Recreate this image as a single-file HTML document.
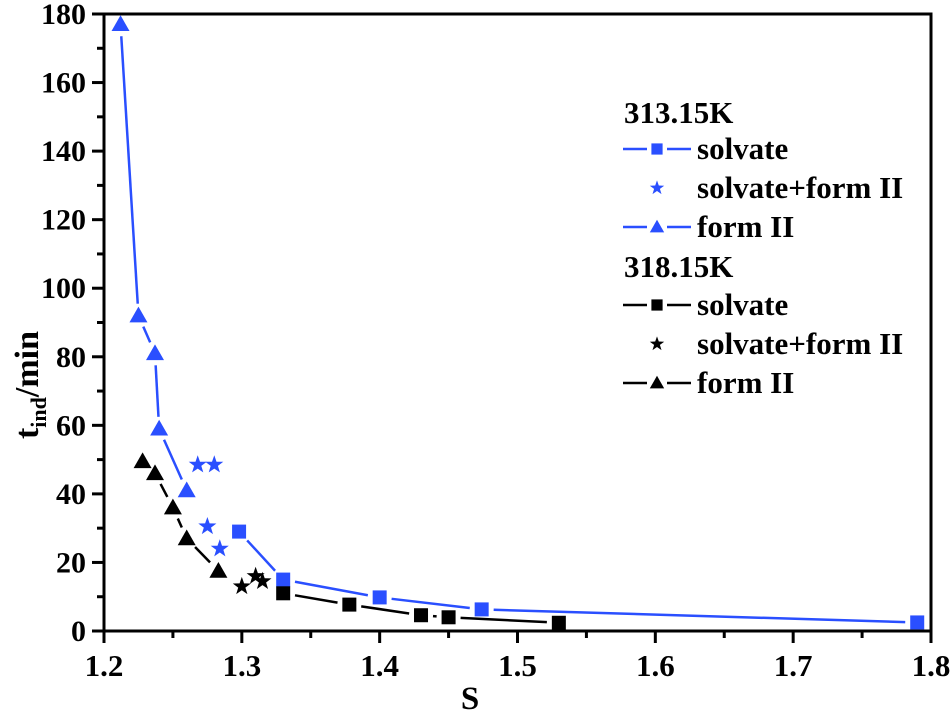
<!DOCTYPE html>
<html><head><meta charset="utf-8"><style>
html,body{margin:0;padding:0;background:#fff;}
svg text{font-family:"Liberation Serif",serif;font-weight:bold;fill:#000;}
</style></head><body>
<svg id="chart" width="952" height="719" xmlns="http://www.w3.org/2000/svg">
<g id="grid"></g>
<g id="series"></g>
<g id="legend"></g>
</svg>
<script>
const xTicks=[1.2,1.3,1.4,1.5,1.6,1.7,1.8];
const yTicks=[0,20,40,60,80,100,120,140,160,180];
const bSolvX=[1.298,1.330,1.400,1.474,1.790];
const bSolvY=[29,15,9.8,6.3,2.5];
const bStarX=[1.268,1.280,1.275,1.284];
const bStarY=[48.5,48.5,30.5,24];
const bFormX=[1.212,1.225,1.237,1.240,1.260];
const bFormY=[177,92,81,59,41];
const kSolvX=[1.330,1.378,1.430,1.450,1.530];
const kSolvY=[11,7.7,4.6,4.0,2.4];
const kStarX=[1.300,1.310,1.315];
const kStarY=[13,16,14.5];
const kFormX=[1.228,1.237,1.250,1.260,1.283];
const kFormY=[49.5,46,36,27,17.5];

const L=104,R=931,T=14,B=631;
const sx=v=>L+(v-1.2)/0.6*(R-L);
const sy=v=>B-v/180*(B-T);
const NS="http://www.w3.org/2000/svg";
const BLUE="#2a4fff";
function mk(tag,attrs,parent){const e=document.createElementNS(NS,tag);for(const k in attrs)e.setAttribute(k,attrs[k]);parent.appendChild(e);return e;}
const g=document.getElementById('grid'),s=document.getElementById('series'),lg=document.getElementById('legend');

const frame=mk('rect',{x:L,y:T,width:R-L,height:B-T,fill:'none',stroke:'#000','stroke-width':3},g);


xTicks.forEach((t,i)=>{
  const x=sx(t);
  const tk=mk('line',{x1:x,x2:x,y1:B,y2:B+12,stroke:'#000','stroke-width':3},g);
  
  
  if(i<xTicks.length-1){const xm=sx(t+0.05);const m=mk('line',{x1:xm,x2:xm,y1:B,y2:B+7,stroke:'#000','stroke-width':3},g);
  
  }
  const tx=mk('text',{x:x,y:B+45,'text-anchor':'middle','font-size':31},g);tx.textContent=t.toFixed(1);
  
  
});
yTicks.forEach((t,i)=>{
  const y=sy(t);
  const tk=mk('line',{x1:L-12,x2:L,y1:y,y2:y,stroke:'#000','stroke-width':3},g);
  
  
  if(i<yTicks.length-1){const ym=sy(t+10);const m=mk('line',{x1:L-7,x2:L,y1:ym,y2:ym,stroke:'#000','stroke-width':3},g);
  
  }
  const tx=mk('text',{x:L-18,y:y+10,'text-anchor':'end','font-size':30},g);tx.textContent=t;
  
  
});
const xt=mk('text',{x:470,y:709,'text-anchor':'middle','font-size':33},g);xt.textContent='S';


const yt=mk('text',{x:0,y:0,'text-anchor':'middle','font-size':34,transform:'translate(38,385) rotate(-90)'},g);


yt.innerHTML='t<tspan font-size="22" dy="8">ind</tspan><tspan dy="-8">/min</tspan>';

function marker(type,x,y,color,parent,size){
  let e;
  size=size||1;
  if(type==='sq'){e=mk('rect',{x:x-7*size,y:y-7*size,width:14*size,height:14*size,fill:color},parent);}
  else if(type==='tri'){const r=9*size;e=mk('polygon',{points:`${x},${y-r} ${x+r},${y+r*0.75} ${x-r},${y+r*0.75}`,fill:color},parent);}
  else{const pts=[];for(let k=0;k<10;k++){const r=k%2?3.8*size:9.5*size;const a=-Math.PI/2+k*Math.PI/5;pts.push((x+r*Math.cos(a)).toFixed(1)+','+(y+r*Math.sin(a)).toFixed(1));}
    e=mk('polygon',{points:pts.join(' '),fill:color},parent);}
  return e;
}
function gapLine(xs,ys,color,parent){
  for(let i=0;i<xs.length-1;i++){
    const x1=sx(xs[i]),y1=sy(ys[i]),x2=sx(xs[i+1]),y2=sy(ys[i+1]);
    const d=Math.hypot(x2-x1,y2-y1),g0=12;
    if(d<2*g0)continue;
    const ux=(x2-x1)/d,uy=(y2-y1)/d;
    const l=mk('line',{x1:x1+ux*g0,y1:y1+uy*g0,x2:x2-ux*g0,y2:y2-uy*g0,stroke:color,'stroke-width':2.5},parent);
    
    
  }
}
function series(xs,ys,type,color,line,name){
  const grp=mk('g',{},s);
  
  
  if(line)gapLine(xs,ys,color,grp);
  xs.forEach((v,i)=>{const m=marker(type,sx(v),sy(ys[i]),color,grp);
    
    });
}
series(bSolvX,bSolvY,'sq',BLUE,true,'series-313-solvate');
series(bStarX,bStarY,'star',BLUE,false,'series-313-solvate-form2');
series(bFormX,bFormY,'tri',BLUE,true,'series-313-form2');
series(kSolvX,kSolvY,'sq','#000',true,'series-318-solvate');
series(kStarX,kStarY,'star','#000',false,'series-318-solvate-form2');
series(kFormX,kFormY,'tri','#000',true,'series-318-form2');

const legRows=[
 {t:'head',label:'313.15K',y:112},
 {t:'sq',c:BLUE,label:'solvate',y:149,line:true},
 {t:'star',c:BLUE,label:'solvate+form II',y:188,line:false},
 {t:'tri',c:BLUE,label:'form II',y:227,line:true},
 {t:'head',label:'318.15K',y:266},
 {t:'sq',c:'#000',label:'solvate',y:305,line:true},
 {t:'star',c:'#000',label:'solvate+form II',y:344,line:false},
 {t:'tri',c:'#000',label:'form II',y:383,line:true}
];
legRows.forEach(r=>{
  const gi=mk('g',{},lg);
  
  
  if(r.t==='head'){const tx=mk('text',{x:624,y:r.y+11,'font-size':31},gi);tx.textContent=r.label;return;}
  if(r.line){mk('line',{x1:623,x2:647,y1:r.y,y2:r.y,stroke:r.c,'stroke-width':2.5},gi);mk('line',{x1:667,x2:691,y1:r.y,y2:r.y,stroke:r.c,'stroke-width':2.5},gi);}
  marker(r.t,657,r.y,r.c,gi,0.8);
  const tx=mk('text',{x:697,y:r.y+10,'font-size':31},gi);tx.textContent=r.label;
});
</script>
</body></html>
